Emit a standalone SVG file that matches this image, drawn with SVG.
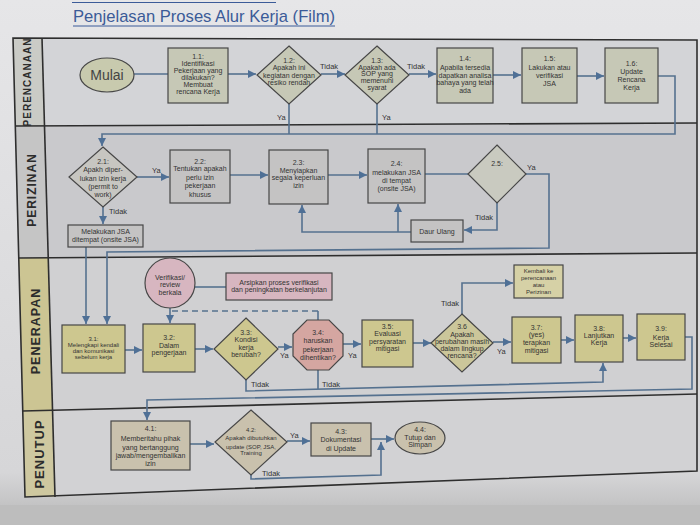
<svg xmlns="http://www.w3.org/2000/svg" width="700" height="525" viewBox="0 0 700 525">
<style>
text{font-family:"Liberation Sans",Arial,sans-serif;fill:#333;}
.t{font-size:7px;text-anchor:middle;}
.s{font-size:6px;text-anchor:middle;}
.lb{font-size:7.5px;}
.lane{font-weight:bold;fill:#2c2c2c;text-anchor:middle;letter-spacing:1px;}
.box{stroke:#474747;stroke-width:1.2;}
.g1{fill:#c6c8b6;}
.g2{fill:#c4c3c3;}
.k{fill:#cdc78f;}
.pk{fill:#d7b6c0;}
.b4{fill:#c9c1ad;}
.con{fill:none;stroke:#55718f;stroke-width:1.6;}
.arr{marker-end:url(#ah);}
.frame{fill:none;stroke:#2e2e2e;stroke-width:1.6;}
</style>
<defs>
<marker id="ah" viewBox="0 0 10 10" refX="10" refY="5" markerWidth="9" markerHeight="8" orient="auto" markerUnits="userSpaceOnUse"><path d="M0,0 L10,5 L0,10 z" fill="#4f7096"/></marker>
<linearGradient id="bg" x1="0" y1="0" x2="0" y2="1"><stop offset="0" stop-color="#e6e6e8"/><stop offset="0.9" stop-color="#d6d6d8"/><stop offset="1" stop-color="#b8b8b8"/></linearGradient>
</defs>
<rect width="700" height="525" fill="url(#bg)"/>
<rect x="0" y="505" width="700" height="20" fill="#bdbdbd"/>
<!-- title -->
<line x1="72" y1="2.5" x2="276" y2="2.5" stroke="#3b5b98" stroke-width="1.2"/>
<text x="73" y="22" font-size="17" style="fill:#3b5b98" textLength="262" lengthAdjust="spacingAndGlyphs">Penjelasan Proses Alur Kerja (Film)</text>
<line x1="73" y1="26" x2="335" y2="26" stroke="#3b5b98" stroke-width="1"/>
<!-- lanes -->
<g id="lanes">
<polygon points="13,38 697,40 697,123 15.3,126" fill="#d3d4d7"/>
<polygon points="15.3,126 697,123 697,253 18.8,258" fill="#c9c9cc"/>
<polygon points="18.8,258 697,253 697,394 22.8,411" fill="#d0d0d2"/>
<polygon points="22.8,411 697,394 697,471 25,497" fill="#d2d2d4"/>
<polygon points="13,38 42,38 44.5,126 15.3,126" fill="#cacbc6"/>
<polygon points="15.3,126 44.5,126 48.2,258 18.8,258" fill="#c5c5c5"/>
<polygon points="18.8,258 48.2,258 52.6,411 22.8,411" fill="#ccc593"/>
<polygon points="22.8,411 52.6,411 55,497 25,497" fill="#cec8a0"/>
<polygon class="frame" points="13,38 697,40 697,471 25,497"/>
<line class="frame" x1="42" y1="38" x2="55" y2="497"/>
<line class="frame" x1="15.3" y1="126" x2="697" y2="123"/>
<line class="frame" x1="18.8" y1="258" x2="697" y2="253"/>
<line class="frame" x1="22.8" y1="411" x2="697" y2="394"/>
<text class="lane" font-size="10" transform="translate(31,82) rotate(-90)">PERENCANAAN</text>
<text class="lane" font-size="12" transform="translate(36,190) rotate(-90)">PERIZINAN</text>
<text class="lane" font-size="12.5" transform="translate(40,331) rotate(-90)">PENERAPAN</text>
<text class="lane" font-size="13" transform="translate(44,454) rotate(-90)">PENUTUP</text>
</g>
<!-- connectors -->
<g id="connectors">
<path class="con" d="M134,74 H168"/>
<path class="con arr" d="M228,74 H256"/>
<path class="con arr" d="M321,74 H345"/>
<path class="con arr" d="M409,74 H436"/>
<path class="con arr" d="M493,75 H521"/>
<path class="con arr" d="M577,76 H604"/>
<path class="con arr" d="M658,76 H675 V134 H102 V146"/>
<path class="con" d="M289,104 V134"/>
<path class="con" d="M377,104 V134"/>
<path class="con arr" d="M137,177 H169"/>
<path class="con arr" d="M230,175 H268"/>
<path class="con arr" d="M328,175 H367"/>
<path class="con" d="M425,174 H468"/>
<path class="con arr" d="M526,174 H549 V248 L107,252 V324"/>
<path class="con arr" d="M497,203 V230 H464"/>
<path class="con arr" d="M411,232 H302 V205"/>
<path class="con arr" d="M398,232 V204"/>
<path class="con arr" d="M103,207 V224"/>
<path class="con arr" d="M86,247 V324"/>
<path class="con" d="M195,287 H226"/>
<path class="con arr" d="M170,308 V323"/>
<path class="con" d="M318,320 V311"/>
<path class="con" stroke-dasharray="6,4" d="M318,311 H170"/>
<path class="con arr" d="M125,350 H142"/>
<path class="con arr" d="M195,349 H213"/>
<path class="con arr" d="M278,347 H292"/>
<path class="con arr" d="M343,344 H361"/>
<path class="con arr" d="M413,343 H431"/>
<path class="con arr" d="M462,314 V283 H513"/>
<path class="con arr" d="M493,342 H511"/>
<path class="con arr" d="M561,340 H574"/>
<path class="con arr" d="M623,338 H636"/>
<path class="con arr" d="M246,380 V391 L603,382 V363"/>
<path class="con" d="M318,370 V389"/>
<path class="con arr" d="M685,337 H692 V389 L147,400 V420"/>
<path class="con arr" d="M190,444 H214"/>
<path class="con arr" d="M287,441 H310"/>
<path class="con arr" d="M371,439 H394"/>
<path class="con arr" d="M251,475 V479 L381,475 V442"/>
</g>
<!-- connector labels -->
<g id="labels" class="lb">
<text x="320" y="69">Tidak</text>
<text x="407" y="69">Tidak</text>
<text x="277" y="120">Ya</text>
<text x="382" y="120">Ya</text>
<text x="152" y="173">Ya</text>
<text x="109" y="214">Tidak</text>
<text x="527" y="170">Ya</text>
<text x="475" y="220">Tidak</text>
<text x="280" y="358">Ya</text>
<text x="348" y="358">Ya</text>
<text x="251" y="387">Tidak</text>
<text x="322" y="387">Tidak</text>
<text x="441" y="306">Tidak</text>
<text x="497" y="354">Ya</text>
<text x="290" y="438">Ya</text>
<text x="262" y="476">Tidak</text>
</g>
<!-- lane 1 -->
<g id="n-mulai"><ellipse class="box" cx="107" cy="75" rx="27" ry="17" fill="#c8caae"/><text x="107" y="80" font-size="14" text-anchor="middle" style="fill:#444">Mulai</text></g>
<g id="n-1-1"><rect class="box g1" x="168" y="48" width="60" height="55"/><text class="t"><tspan x="198" y="59">1.1:</tspan><tspan x="198" y="66">Identifikasi</tspan><tspan x="198" y="73">Pekerjaan yang</tspan><tspan x="198" y="80">dilakukan?</tspan><tspan x="198" y="87">Membuat</tspan><tspan x="198" y="94">rencana Kerja</tspan></text></g>
<g id="n-1-2"><polygon class="box g1" points="289,46 321,75 289,104 257,75"/><text class="t"><tspan x="289" y="63">1.2:</tspan><tspan x="289" y="70">Apakah ini</tspan><tspan x="289" y="77.5">kegiatan dengan</tspan><tspan x="289" y="84.5">resiko rendah</tspan></text></g>
<g id="n-1-3"><polygon class="box g1" points="377,46 409,75 377,104 345,75"/><text class="t"><tspan x="377" y="62.5">1.3:</tspan><tspan x="377" y="69.5">Apakah ada</tspan><tspan x="377" y="76">SOP yang</tspan><tspan x="377" y="83">memenuhi</tspan><tspan x="377" y="90">syarat</tspan></text></g>
<g id="n-1-4"><rect class="box g1" x="437" y="48" width="56" height="55"/><text class="t"><tspan x="465" y="60.5">1.4:</tspan><tspan x="465" y="69.5">Apabila tersedia</tspan><tspan x="465" y="77.5">dapatkan analisa</tspan><tspan x="465" y="84.5">bahaya yang telah</tspan><tspan x="465" y="92.5">ada</tspan></text></g>
<g id="n-1-5"><rect class="box g1" x="522" y="48" width="55" height="55"/><text class="t"><tspan x="549.5" y="60.5">1.5:</tspan><tspan x="549.5" y="69.5">Lakukan atau</tspan><tspan x="549.5" y="77.5">verifikasi</tspan><tspan x="549.5" y="85.5">JSA</tspan></text></g>
<g id="n-1-6"><rect class="box g1" x="605" y="48" width="53" height="55"/><text class="t"><tspan x="631.5" y="65.5">1.6:</tspan><tspan x="631.5" y="73.5">Update</tspan><tspan x="631.5" y="81.5">Rencana</tspan><tspan x="631.5" y="89.5">Kerja</tspan></text></g>
<!-- lane 2 -->
<g id="n-2-1"><polygon class="box" fill="#c7c6c1" points="103,147 137,177 103,207 69,177"/><text class="t"><tspan x="103" y="163.5">2.1:</tspan><tspan x="103" y="171.5">Apakh diper-</tspan><tspan x="103" y="180.5">lukan izin kerja</tspan><tspan x="103" y="189">(permit to</tspan><tspan x="103" y="196.5">work)</tspan></text></g>
<g id="n-2-2"><rect class="box g2" x="170" y="150" width="60" height="53"/><text class="t"><tspan x="200" y="163.5">2.2:</tspan><tspan x="200" y="171">Tentukan apakah</tspan><tspan x="200" y="179.5">perlu izin</tspan><tspan x="200" y="188">pekerjaan</tspan><tspan x="200" y="196.5">khusus</tspan></text></g>
<g id="n-2-3"><rect class="box g2" x="269" y="150" width="59" height="54"/><text class="t"><tspan x="298.5" y="164.5">2.3:</tspan><tspan x="298.5" y="172.5">Menyiapkan</tspan><tspan x="298.5" y="180">segala keperluan</tspan><tspan x="298.5" y="187.5">izin</tspan></text></g>
<g id="n-2-4"><rect class="box g2" x="368" y="149" width="57" height="54"/><text class="t"><tspan x="396.5" y="165.5">2.4:</tspan><tspan x="396.5" y="174.5">melakukan JSA</tspan><tspan x="396.5" y="182.5">di tempat</tspan><tspan x="396.5" y="190.5">(onsite JSA)</tspan></text></g>
<g id="n-2-5"><polygon class="box" fill="#c9cac0" points="497,145 526,174 497,203 468,174"/><text class="t"><tspan x="497" y="165.5">2.5:</tspan></text></g>
<g id="n-daur"><rect class="box g2" x="411" y="220" width="52" height="22"/><text class="t" x="437" y="233.5" font-size="7.5">Daur Ulang</text></g>
<g id="n-onsite"><rect class="box g2" x="68" y="225" width="75" height="22"/><text class="t"><tspan x="105.5" y="234">Melakukan JSA</tspan><tspan x="105.5" y="242">ditempat (onsite JSA)</tspan></text></g>
<!-- lane 3 -->
<g id="n-verif"><circle class="box pk" cx="170" cy="283" r="25"/><text class="t" font-size="7.5"><tspan x="170" y="279.5">Verifikasi/</tspan><tspan x="170" y="287">review</tspan><tspan x="170" y="294.5">berkala</tspan></text></g>
<g id="n-arsip"><rect class="box pk" x="226" y="273" width="106" height="27"/><text class="t"><tspan x="279" y="284.5">Arsipkan proses verifikasi</tspan><tspan x="279" y="292">dan peningkatan berkelanjutan</tspan></text></g>
<g id="n-3-1"><rect class="box k" x="62" y="325" width="63" height="48"/><text class="s"><tspan x="93.5" y="341">3.1:</tspan><tspan x="93.5" y="347">Melengkapi kendali</tspan><tspan x="93.5" y="353">dan komunikasi</tspan><tspan x="93.5" y="359">sebelum kerja</tspan></text></g>
<g id="n-3-2"><rect class="box k" x="143" y="324" width="52" height="48"/><text class="t" font-size="8"><tspan x="169" y="339.5">3.2:</tspan><tspan x="169" y="347.5">Dalam</tspan><tspan x="169" y="355">pengerjaan</tspan></text></g>
<g id="n-3-3"><polygon class="box k" points="246,318 278,349 246,380 214,349"/><text class="t" font-size="7.5"><tspan x="246" y="334.5">3.3:</tspan><tspan x="246" y="341.5">Kondisi</tspan><tspan x="246" y="349.5">kerja</tspan><tspan x="246" y="356.5">berubah?</tspan></text></g>
<g id="n-3-4"><polygon class="box" fill="#d5a6a1" points="307,320 329,320 343,334 343,356 329,370 307,370 293,356 293,334"/><text class="t"><tspan x="318" y="334.5">3.4:</tspan><tspan x="318" y="342.5">haruskan</tspan><tspan x="318" y="351.5">pekerjaan</tspan><tspan x="318" y="360">dihentikan?</tspan></text></g>
<g id="n-3-5"><rect class="box k" x="362" y="320" width="51" height="47"/><text class="t" font-size="7.5"><tspan x="387.5" y="328.5">3.5:</tspan><tspan x="387.5" y="335.5">Evaluasi</tspan><tspan x="387.5" y="343.5">persyaratan</tspan><tspan x="387.5" y="351">mitigasi</tspan></text></g>
<g id="n-3-6"><polygon class="box" fill="#cbc69a" points="462,314 493,343 462,372 431,343"/><text class="t"><tspan x="462" y="328.5">3.6</tspan><tspan x="462" y="336.5">Apakah</tspan><tspan x="462" y="343.5">perubahan masih</tspan><tspan x="462" y="350.5">dalam lingkup</tspan><tspan x="462" y="357.5">rencana?</tspan></text></g>
<g id="n-kembali"><rect class="box" fill="#d6d1a6" x="514" y="265" width="49" height="33"/><text class="s"><tspan x="538.5" y="273">Kembali ke</tspan><tspan x="538.5" y="280">perencanaan</tspan><tspan x="538.5" y="287">atau</tspan><tspan x="538.5" y="294">Perizinan</tspan></text></g>
<g id="n-3-7"><rect class="box k" x="512" y="317" width="49" height="46"/><text class="t"><tspan x="536.5" y="329.5">3.7:</tspan><tspan x="536.5" y="336.5">(yes)</tspan><tspan x="536.5" y="344.5">terapkan</tspan><tspan x="536.5" y="352.5">mitigasi</tspan></text></g>
<g id="n-3-8"><rect class="box k" x="575" y="315" width="48" height="47"/><text class="t"><tspan x="599" y="330.5">3.8:</tspan><tspan x="599" y="337.5">Lanjutkan</tspan><tspan x="599" y="344.5">Kerja</tspan></text></g>
<g id="n-3-9"><rect class="box k" x="637" y="314" width="48" height="46"/><text class="t"><tspan x="661" y="330.5">3.9:</tspan><tspan x="661" y="339.5">Kerja</tspan><tspan x="661" y="346.5">Selesai</tspan></text></g>
<!-- lane 4 -->
<g id="n-4-1"><rect class="box b4" x="111" y="421" width="79" height="49"/><text class="t" font-size="7.5"><tspan x="150.5" y="430.5">4.1:</tspan><tspan x="150.5" y="440.5">Memberitahu pihak</tspan><tspan x="150.5" y="449.5">yang bertanggung</tspan><tspan x="150.5" y="457.5">jawab/mengembalikan</tspan><tspan x="150.5" y="465.5">izin</tspan></text></g>
<g id="n-4-2"><polygon class="box b4" points="251,410 287,442 251,475 215,442"/><text class="s"><tspan x="251" y="432">4.2:</tspan><tspan x="251" y="440">Apakah dibutuhkan</tspan><tspan x="251" y="449">update (SOP, JSA,</tspan><tspan x="251" y="455">Training</tspan></text></g>
<g id="n-4-3"><rect class="box b4" x="311" y="423" width="60" height="33"/><text class="t"><tspan x="341" y="433.5">4.3:</tspan><tspan x="341" y="441.5">Dokumentasi</tspan><tspan x="341" y="450.5">di Update</tspan></text></g>
<g id="n-4-4"><ellipse class="box b4" cx="420" cy="438" rx="25" ry="16"/><text class="t"><tspan x="420" y="431.5">4.4:</tspan><tspan x="420" y="439.5">Tutup dan</tspan><tspan x="420" y="446.5">Simpan</tspan></text></g>
</svg>
